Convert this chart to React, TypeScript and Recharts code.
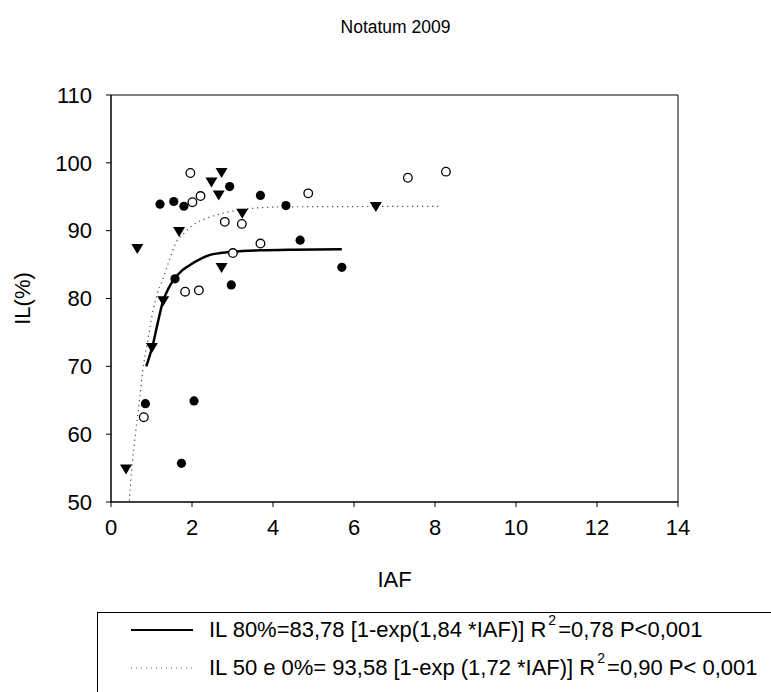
import React from 'react';
import { ComposedChart, XAxis, YAxis, Scatter, Line, ReferenceArea } from 'recharts';

const FONT = '"Liberation Sans", Arial, Helvetica, sans-serif';

const xTicks = [0, 2, 4, 6, 8, 10, 12, 14];
const yTicks = [50, 60, 70, 80, 90, 100, 110];

// IL 80% (filled circles)
const filledIAF = [1.21, 1.55, 1.8, 2.93, 3.69, 4.32, 4.67, 5.7, 1.58, 2.97, 0.85, 2.05, 1.74];
const filledIL = [93.9, 94.3, 93.6, 96.5, 95.2, 93.7, 88.6, 84.6, 82.9, 82.0, 64.5, 64.9, 55.7];

// IL 50% (open circles)
const openIAF = [1.96, 2.21, 2.01, 2.81, 3.23, 3.69, 3.01, 1.83, 2.17, 0.81, 4.87, 7.33, 8.27];
const openIL = [98.5, 95.1, 94.2, 91.3, 91.0, 88.1, 86.7, 81.0, 81.2, 62.5, 95.5, 97.8, 98.7];

// IL 0% (inverted triangles)
const triIAF = [2.73, 2.48, 2.66, 3.24, 1.68, 0.65, 2.73, 1.29, 1.01, 0.37, 6.54];
const triIL = [98.5, 97.1, 95.2, 92.5, 89.8, 87.3, 84.5, 79.6, 72.7, 54.8, 93.5];

// fitted curve IL 80% (solid)
const fit80IAF = [0.87, 1.03, 1.15, 1.28, 1.42, 1.57, 1.75, 1.94, 2.2, 2.43, 2.7, 3.01, 3.67, 4.5, 5.7];
const fit80IL = [70.0, 73.1, 76.3, 79.5, 81.5, 82.9, 84.1, 84.9, 85.8, 86.4, 86.7, 86.9, 87.1, 87.2, 87.25];

// fitted curve IL 50 e 0% (dotted)
const fit50IAF = [0.45, 0.53, 0.6, 0.7, 0.78, 0.9, 1.03, 1.15, 1.28, 1.45, 1.61, 1.8, 2.02, 2.3, 2.6, 3.0, 3.5, 4.2, 5.5, 8.17];
const fit50IL = [50.2, 56.0, 59.9, 64.8, 69.2, 73.5, 78.0, 80.8, 82.9, 85.8, 88.3, 89.6, 90.8, 91.7, 92.3, 92.9, 93.3, 93.5, 93.55, 93.58];

const zip = (xs: number[], ys: number[]) => xs.map((x, i) => ({ x, y: ys[i] }));

const filledData = zip(filledIAF, filledIL);
const openData = zip(openIAF, openIL);
const triData = zip(triIAF, triIL);
const fit80Data = zip(fit80IAF, fit80IL);
const fit50Data = zip(fit50IAF, fit50IL);

const FilledDot = (p: any) => <circle cx={p.cx} cy={p.cy} r={4.6} fill="#000" />;
const OpenDot = (p: any) => (
  <circle cx={p.cx} cy={p.cy} r={4.3} fill="#fff" stroke="#000" strokeWidth={1.3} />
);
const DownTri = (p: any) => (
  <polygon
    points={`${p.cx - 6},${p.cy - 5} ${p.cx + 6},${p.cy - 5} ${p.cx},${p.cy + 5}`}
    fill="#000"
  />
);

const YLabel = (props: any) => {
  const vb = props.viewBox || { x: 0, y: 95, width: 111, height: 407 };
  const x = vb.x + 22;
  const y = vb.y + vb.height / 2;
  return (
    <text
      x={x}
      y={y}
      transform={`rotate(-90 ${x} ${y})`}
      textAnchor="middle"
      dominantBaseline="central"
      fontSize={22}
      fontFamily={FONT}
      fill="#000"
    >
      IL(%)
    </text>
  );
};

const XLabel = (props: any) => {
  const vb = props.viewBox || { x: 111, y: 502, width: 567, height: 30 };
  const x = vb.x + vb.width / 2;
  const y = 579;
  return (
    <text x={x} y={y} textAnchor="middle" dominantBaseline="central" fontSize={22} fontFamily={FONT} fill="#000">
      IAF
    </text>
  );
};

const tickStyle = { fill: '#000', fontSize: 22, fontFamily: FONT };

export default function App() {
  return (
    <div
      style={{
        position: 'absolute',
        left: 0,
        top: 0,
        width: 771,
        height: 692,
        overflow: 'hidden',
        background: '#fff',
        fontFamily: FONT,
      }}
    >
      <div
        style={{
          position: 'absolute',
          left: 0,
          top: 16,
          width: 791,
          textAlign: 'center',
          fontSize: 17.5,
          lineHeight: '22px',
          color: '#000',
        }}
      >
        Notatum 2009
      </div>
      <ComposedChart width={771} height={692} margin={{ top: 95, right: 93, bottom: 160, left: 0 }}>
        <XAxis
          type="number"
          dataKey="x"
          domain={[0, 14]}
          ticks={xTicks}
          interval={0}
          allowDataOverflow
          height={30}
          tickSize={5}
          tickMargin={12}
          axisLine={{ stroke: '#000', strokeWidth: 1 }}
          tickLine={{ stroke: '#000', strokeWidth: 1 }}
          tick={tickStyle}
          label={<XLabel />}
        />
        <YAxis
          type="number"
          dataKey="y"
          domain={[50, 110]}
          ticks={yTicks}
          interval={0}
          allowDataOverflow
          width={111}
          tickSize={5}
          tickMargin={14}
          axisLine={{ stroke: '#000', strokeWidth: 1 }}
          tickLine={{ stroke: '#000', strokeWidth: 1 }}
          tick={tickStyle}
          label={<YLabel />}
        />
        <ReferenceArea
          x1={0}
          x2={14}
          y1={50}
          y2={110}
          fill="none"
          stroke="#000"
          strokeWidth={1}
          ifOverflow="visible"
        />
        <Line
          data={fit50Data}
          dataKey="y"
          type="monotone"
          dot={false}
          activeDot={false}
          stroke="#444"
          strokeWidth={1.2}
          strokeDasharray="1.2 3.8"
          isAnimationActive={false}
        />
        <Line
          data={fit80Data}
          dataKey="y"
          type="monotone"
          dot={false}
          activeDot={false}
          stroke="#000"
          strokeWidth={2.5}
          isAnimationActive={false}
        />
        <Scatter data={filledData} dataKey="y" shape={<FilledDot />} isAnimationActive={false} />
        <Scatter data={openData} dataKey="y" shape={<OpenDot />} isAnimationActive={false} />
        <Scatter data={triData} dataKey="y" shape={<DownTri />} isAnimationActive={false} />
      </ComposedChart>
      <div
        style={{
          position: 'absolute',
          left: 97,
          top: 612,
          width: 800,
          height: 200,
          borderTop: '1.5px solid #000',
          borderLeft: '1.5px solid #000',
          fontSize: 22,
          color: '#000',
        }}
      >
        <div style={{ position: 'absolute', left: 33, top: 17, width: 62, height: 0, borderTop: '2px solid #000', transform: 'translateY(-1px)' }} />
        <div style={{ position: 'absolute', left: 111, top: 4, whiteSpace: 'nowrap', lineHeight: '26px' }}>
          IL 80%=83,78 [1-exp(1,84 *IAF)] R
          <span style={{ fontSize: 14, position: 'relative', top: -12, margin: '0 2px' }}>2</span>
          =0,78 P&lt;0,001
        </div>
        <svg style={{ position: 'absolute', left: 33, top: 50 }} width={62} height={10}>
          <line x1={0} y1={5} x2={62} y2={5} stroke="#666" strokeWidth={1} strokeDasharray="1 4" />
        </svg>
        <div style={{ position: 'absolute', left: 111, top: 42, whiteSpace: 'nowrap', lineHeight: '26px' }}>
          IL 50 e 0%= 93,58 [1-exp (1,72 *IAF)] R
          <span style={{ fontSize: 14, position: 'relative', top: -12, margin: '0 2px' }}>2</span>
          =0,90 P&lt; 0,001
        </div>
      </div>
    </div>
  );
}
